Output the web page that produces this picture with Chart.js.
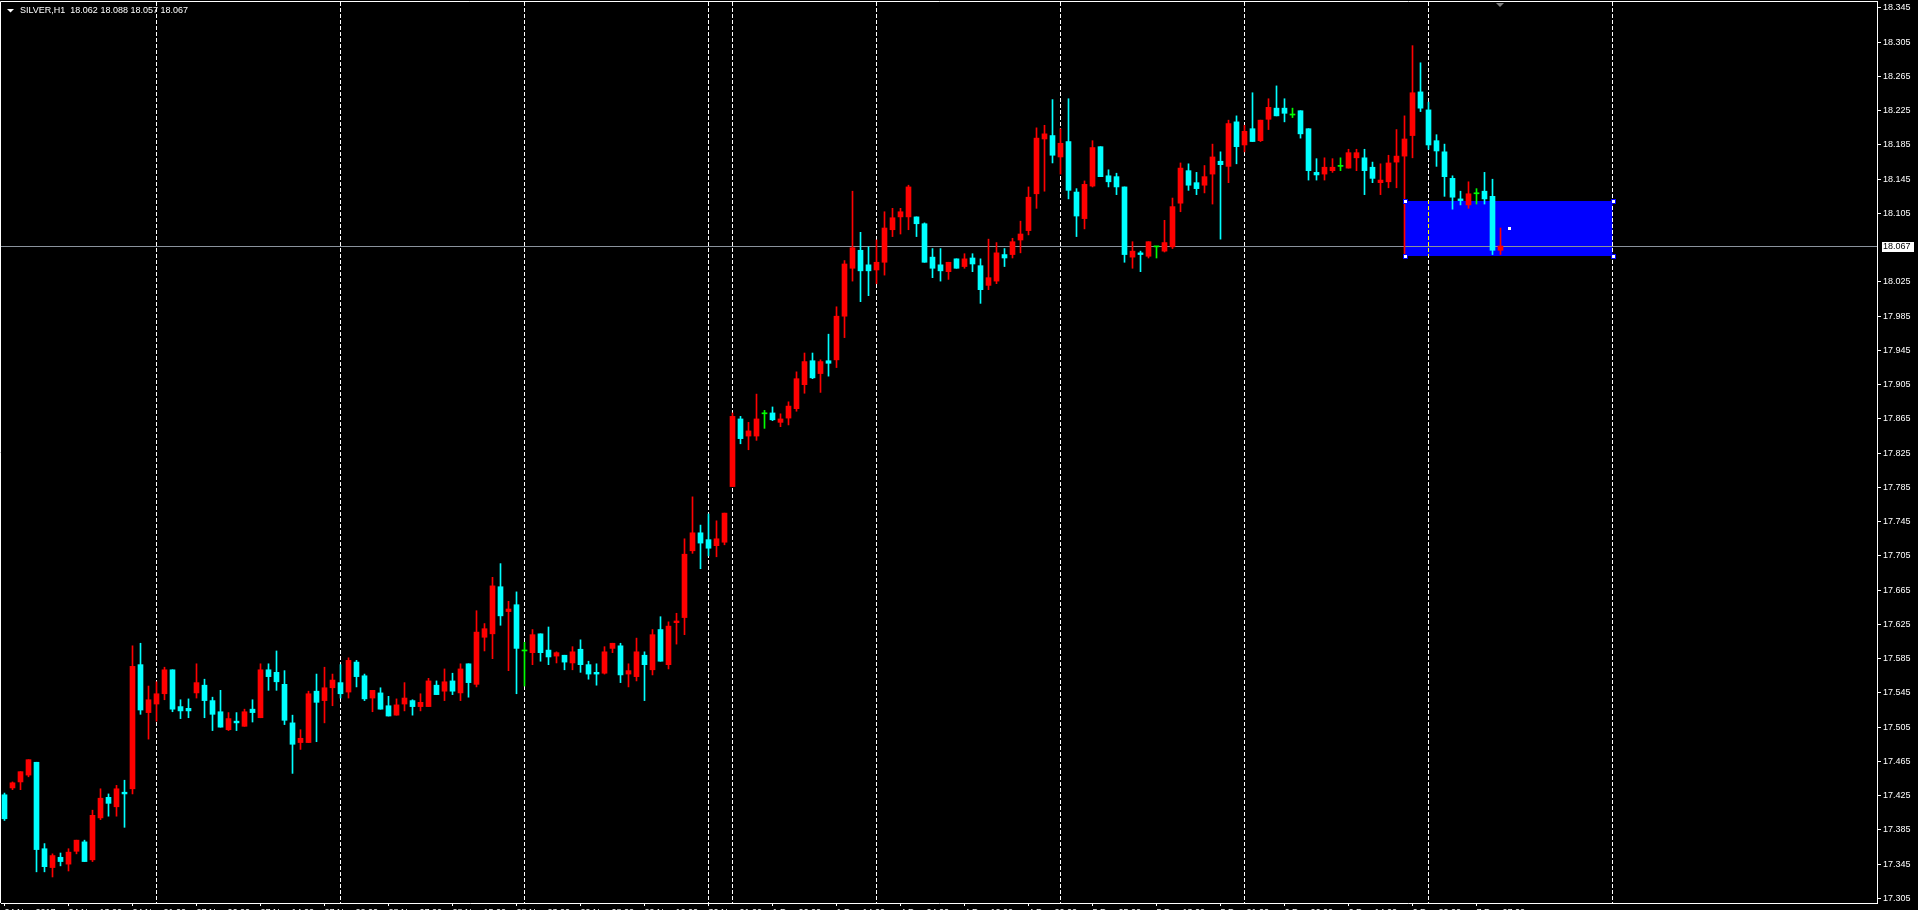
<!DOCTYPE html>
<html><head><meta charset="utf-8">
<script src="https://cdn.jsdelivr.net/npm/chart.js@4.4.0/dist/chart.umd.min.js"></script>
<style>html,body{margin:0;padding:0;background:#000;overflow:hidden}canvas{display:block}</style>
</head><body>
<canvas id="c" width="1918" height="910"></canvas>
<script>
// ---- data (SILVER, H1) ----
const opens = [
17.426,17.434,17.441,17.449,17.464,17.363,17.341,17.353,17.345,17.360,
17.371,17.350,17.399,17.423,17.412,17.429,17.433,17.578,17.522,17.532,
17.544,17.572,17.529,17.527,17.545,17.554,17.536,17.523,17.502,17.512,
17.506,17.526,17.516,17.572,17.569,17.555,17.510,17.487,17.487,17.547,
17.536,17.551,17.557,17.546,17.581,17.565,17.539,17.545,17.530,17.519,
17.532,17.536,17.529,17.529,17.554,17.547,17.559,17.545,17.579,17.555,
17.610,17.614,17.669,17.640,17.648,17.594,17.592,17.614,17.595,17.588,
17.589,17.580,17.596,17.578,17.569,17.568,17.597,17.600,17.567,17.564,
17.589,17.572,17.619,17.578,17.627,17.633,17.711,17.732,17.724,17.717,
17.721,17.786,17.865,17.845,17.845,17.871,17.872,17.861,17.866,17.877,
17.905,17.933,17.918,17.933,17.934,17.985,18.041,18.062,18.045,18.039,
18.048,18.086,18.101,18.101,18.101,18.093,18.054,18.045,18.037,18.052,
18.043,18.053,18.044,18.021,18.026,18.057,18.057,18.074,18.085,18.128,
18.192,18.196,18.171,18.189,18.130,18.099,18.137,18.183,18.149,18.148,
18.136,18.054,18.059,18.055,18.066,18.061,18.066,18.117,18.155,18.141,
18.138,18.151,18.166,18.160,18.212,18.185,18.204,18.190,18.215,18.228,
18.228,18.220,18.225,18.204,18.153,18.151,18.155,18.160,18.158,18.170,
18.170,18.159,18.141,18.142,18.165,18.172,18.196,18.247,18.226,18.190,
18.177,18.146,18.122,18.115,18.128,18.131,18.125,18.062];
const highs = [
17.428,17.441,17.453,17.467,17.464,17.369,17.357,17.358,17.363,17.373,
17.373,17.408,17.433,17.427,17.437,17.443,17.600,17.603,17.553,17.558,
17.575,17.572,17.537,17.538,17.579,17.561,17.540,17.548,17.522,17.522,
17.526,17.537,17.579,17.579,17.594,17.571,17.519,17.502,17.547,17.567,
17.575,17.567,17.578,17.586,17.583,17.567,17.548,17.551,17.541,17.538,
17.557,17.537,17.544,17.562,17.559,17.573,17.568,17.579,17.579,17.641,
17.626,17.680,17.696,17.652,17.663,17.604,17.619,17.614,17.622,17.593,
17.589,17.599,17.607,17.582,17.579,17.599,17.603,17.603,17.579,17.609,
17.593,17.619,17.634,17.628,17.638,17.725,17.774,17.741,17.754,17.746,
17.755,17.872,17.868,17.861,17.894,17.875,17.879,17.871,17.885,17.920,
17.942,17.942,17.934,17.964,17.996,18.050,18.131,18.083,18.066,18.074,
18.107,18.111,18.111,18.138,18.101,18.094,18.064,18.064,18.048,18.052,
18.058,18.058,18.052,18.075,18.071,18.064,18.076,18.096,18.136,18.205,
18.208,18.238,18.204,18.239,18.134,18.143,18.190,18.183,18.156,18.152,
18.136,18.072,18.061,18.072,18.066,18.097,18.123,18.164,18.163,18.153,
18.161,18.186,18.177,18.214,18.219,18.208,18.246,18.214,18.239,18.254,
18.239,18.228,18.225,18.204,18.169,18.170,18.169,18.170,18.180,18.180,
18.180,18.165,18.163,18.173,18.203,18.219,18.301,18.281,18.235,18.197,
18.186,18.149,18.131,18.142,18.134,18.153,18.145,18.088];
const lows = [
17.396,17.432,17.432,17.447,17.336,17.336,17.330,17.343,17.337,17.357,
17.348,17.348,17.397,17.401,17.401,17.388,17.427,17.520,17.491,17.512,
17.537,17.523,17.515,17.516,17.539,17.516,17.501,17.505,17.501,17.501,
17.506,17.511,17.516,17.548,17.548,17.508,17.451,17.479,17.487,17.488,
17.510,17.530,17.539,17.539,17.552,17.536,17.523,17.526,17.518,17.519,
17.524,17.519,17.524,17.529,17.543,17.536,17.543,17.536,17.540,17.552,
17.594,17.585,17.624,17.571,17.544,17.553,17.578,17.582,17.578,17.580,
17.572,17.572,17.569,17.561,17.554,17.567,17.592,17.557,17.552,17.559,
17.536,17.566,17.582,17.573,17.602,17.613,17.708,17.690,17.705,17.704,
17.718,17.786,17.836,17.829,17.840,17.854,17.863,17.856,17.858,17.874,
17.895,17.912,17.896,17.915,17.925,17.960,18.026,18.002,18.009,18.023,
18.033,18.078,18.081,18.086,18.078,18.048,18.030,18.026,18.028,18.041,
18.041,18.037,18.000,18.016,18.023,18.043,18.053,18.059,18.080,18.111,
18.131,18.164,18.151,18.122,18.078,18.087,18.136,18.148,18.136,18.127,
18.048,18.041,18.037,18.053,18.053,18.060,18.064,18.107,18.132,18.127,
18.129,18.116,18.075,18.141,18.163,18.177,18.189,18.189,18.203,18.219,
18.212,18.217,18.193,18.144,18.144,18.144,18.153,18.155,18.158,18.155,
18.127,18.141,18.127,18.135,18.135,18.057,18.170,18.224,18.180,18.160,
18.125,18.110,18.115,18.111,18.116,18.116,18.057,18.057];
const closes = [
17.398,17.440,17.453,17.467,17.362,17.342,17.355,17.348,17.359,17.373,
17.348,17.402,17.422,17.416,17.433,17.427,17.576,17.525,17.537,17.544,
17.572,17.526,17.524,17.524,17.557,17.536,17.520,17.505,17.515,17.510,
17.523,17.522,17.572,17.564,17.558,17.513,17.485,17.492,17.544,17.534,
17.551,17.560,17.544,17.583,17.564,17.538,17.548,17.526,17.518,17.531,
17.539,17.529,17.534,17.559,17.543,17.558,17.547,17.573,17.557,17.616,
17.620,17.670,17.635,17.643,17.597,17.594,17.613,17.592,17.587,17.592,
17.581,17.593,17.578,17.567,17.567,17.593,17.603,17.566,17.571,17.593,
17.578,17.613,17.582,17.623,17.629,17.707,17.732,17.720,17.714,17.725,
17.755,17.868,17.842,17.851,17.865,17.871,17.864,17.865,17.880,17.912,
17.932,17.913,17.932,17.930,17.985,18.046,18.065,18.038,18.038,18.048,
18.088,18.100,18.107,18.136,18.093,18.048,18.041,18.038,18.048,18.041,
18.052,18.046,18.016,18.030,18.059,18.053,18.072,18.081,18.124,18.193,
18.198,18.173,18.187,18.132,18.102,18.139,18.182,18.148,18.142,18.136,
18.057,18.061,18.057,18.072,18.066,18.071,18.113,18.158,18.138,18.134,
18.148,18.171,18.162,18.210,18.183,18.201,18.189,18.214,18.229,18.219,
18.222,18.220,18.198,18.155,18.150,18.159,18.159,18.160,18.176,18.176,
18.155,18.146,18.144,18.164,18.172,18.192,18.246,18.228,18.185,18.178,
18.148,18.124,18.120,18.128,18.128,18.122,18.062,18.067];

const yTickValues = [18.345,18.305,18.265,18.225,18.185,18.145,18.105,18.025,17.985,17.945,
  17.905,17.865,17.825,17.785,17.745,17.705,17.665,17.625,17.585,17.545,17.505,17.465,
  17.425,17.385,17.345,17.305];
const xTickBars = [0,8,16,24,32,40,48,56,64,72,80,88,96,104,112,120,128,136,144,152,160,168,176,184];
const xTickLabels = ["24 Nov 2017","24 Nov 13:00","24 Nov 21:00","27 Nov 06:00","27 Nov 14:00","27 Nov 22:00",
  "28 Nov 07:00","28 Nov 15:00","28 Nov 23:00","29 Nov 08:00","29 Nov 16:00","30 Nov 01:00",
  "1 Dec 06:00","1 Dec 14:00","4 Dec 04:00","4 Dec 12:00","4 Dec 20:00","5 Dec 05:00",
  "5 Dec 13:00","5 Dec 21:00","6 Dec 06:00","6 Dec 14:00","6 Dec 22:00","7 Dec 07:00"];
const daySeparators = [19,42,65,88,91,109,132,155,178,201];
const symbolTitle = "SILVER,H1  18.062 18.088 18.057 18.067";
const lastPrice = 18.067;
const rectBars = [175, 201];
const rectPrices = [18.1196, 18.0553];

// ---- chart ----
const RED = '#FF0000', CYAN = '#00FFFF', GREEN = '#00FF00';
const colorOf = i => closes[i] > opens[i] ? RED : (closes[i] < opens[i] ? CYAN : GREEN);
const bodyData = opens.map((o, i) => ({x: i, y: [o, closes[i]]}));
const wickData = opens.map((o, i) => ({x: i, y: [lows[i], highs[i]]}));

const FONT = {family: 'Liberation Sans', size: 9};

const overlay = {
  id: 'overlay',
  beforeDraw(chart) {
    const c = chart.ctx;
    c.save(); c.fillStyle = '#000'; c.fillRect(0, 0, chart.width, chart.height); c.restore();
  },
  beforeDatasetsDraw(chart) {
    const c = chart.ctx, a = chart.chartArea, xs = chart.scales.x, ys = chart.scales.y;
    c.save();
    c.beginPath(); c.rect(a.left, a.top, a.right - a.left, a.bottom - a.top); c.clip();
    const rx1 = xs.getPixelForValue(rectBars[0]), rx2 = xs.getPixelForValue(rectBars[1]);
    const ry1 = ys.getPixelForValue(rectPrices[0]), ry2 = ys.getPixelForValue(rectPrices[1]);
    c.fillStyle = '#0000FF';
    c.fillRect(rx1, ry1, rx2 - rx1, ry2 - ry1);
    c.lineWidth = 1; c.setLineDash([4, 2]);
    daySeparators.forEach(b => {
      const x = Math.floor(xs.getPixelForValue(b)) + 0.5;
      c.strokeStyle = '#FFFFFF';
      c.beginPath(); c.moveTo(x, a.top); c.lineTo(x, a.bottom); c.stroke();
      if (x > rx1 && x < rx2) {
        c.save(); c.beginPath(); c.rect(rx1, ry1, rx2 - rx1, ry2 - ry1); c.clip();
        c.strokeStyle = '#FFFF00';
        c.beginPath(); c.moveTo(x, a.top); c.lineTo(x, a.bottom); c.stroke();
        c.restore();
      }
    });
    c.setLineDash([]);
    const py = Math.round(ys.getPixelForValue(lastPrice)) + 0.5;
    c.strokeStyle = '#8A929C';
    c.beginPath(); c.moveTo(a.left, py); c.lineTo(a.right, py); c.stroke();
    c.restore();
  },
  afterDraw(chart) {
    const c = chart.ctx, a = chart.chartArea, xs = chart.scales.x, ys = chart.scales.y;
    c.save();
    c.strokeStyle = '#FFFFFF'; c.lineWidth = 1;
    c.beginPath(); c.moveTo(0.5, a.bottom); c.lineTo(0.5, 1.5); c.lineTo(a.right + 1, 1.5); c.stroke();
    const rx1 = xs.getPixelForValue(rectBars[0]), rx2 = xs.getPixelForValue(rectBars[1]);
    const ry1 = ys.getPixelForValue(rectPrices[0]), ry2 = ys.getPixelForValue(rectPrices[1]);
    [[rx1, ry1], [rx2, ry1], [rx1, ry2], [rx2, ry2]].forEach(([x, y]) => {
      const X = Math.round(x), Y = Math.round(y);
      c.fillStyle = '#0000FF'; c.fillRect(X - 2, Y - 2, 5, 5);
      c.fillStyle = '#FFFFFF'; c.fillRect(X - 1, Y - 1, 3, 3);
    });
    const cx = Math.round((rx1 + rx2) / 2), cy = Math.round((ry1 + ry2) / 2);
    c.fillStyle = '#FFFFFF'; c.fillRect(cx - 1, cy - 1, 3, 3);
    c.fillStyle = '#FFFFFF';
    c.beginPath(); c.moveTo(7, 9); c.lineTo(14, 9); c.lineTo(10.5, 12.5); c.closePath(); c.fill();
    c.font = '9px "Liberation Sans"'; c.textBaseline = 'middle'; c.textAlign = 'left';
    c.fillText(symbolTitle, 20, 11);
    c.fillStyle = '#808080';
    c.beginPath(); c.moveTo(1496, 3); c.lineTo(1504, 3); c.lineTo(1500, 7); c.closePath(); c.fill();
    const py = Math.round(ys.getPixelForValue(lastPrice));
    c.fillStyle = '#FFFFFF'; c.fillRect(a.right + 5, py - 4, 32, 10);
    c.fillStyle = '#000000'; c.fillText(lastPrice.toFixed(3), a.right + 6, py + 1);
    c.restore();
  }
};

new Chart(document.getElementById('c'), {
  type: 'bar',
  data: {
    datasets: [
      {label: 'body', data: bodyData, backgroundColor: ctx => colorOf(ctx.dataIndex),
       barThickness: 5, minBarLength: 1, borderWidth: 0, grouped: false, order: 0},
      {label: 'wick', data: wickData, backgroundColor: ctx => colorOf(ctx.dataIndex),
       barThickness: 1, borderWidth: 0, grouped: false, order: 1}
    ]
  },
  options: {
    responsive: false, animation: false, devicePixelRatio: 1, events: [],
    layout: {padding: {left: 1, top: 2, right: 0, bottom: 0}},
    plugins: {legend: {display: false}, tooltip: {enabled: false}, title: {display: false}},
    scales: {
      x: {
        type: 'linear', position: 'bottom', min: -0.4375, max: 234.0625, offset: false,
        afterBuildTicks: s => { s.ticks = xTickBars.map(v => ({value: v})); },
        afterFit: s => { s.height = 7; s.paddingLeft = 0; s.paddingRight = 0; },
        ticks: {autoSkip: false, maxRotation: 0, minRotation: 0, align: 'start', padding: 1,
                color: '#FFFFFF', font: FONT, callback: (v, i) => xTickLabels[i]},
        grid: {drawOnChartArea: false, drawTicks: true, tickLength: 3, color: '#FFFFFF', offset: false},
        border: {display: true, color: '#FFFFFF', width: 1}
      },
      y: {
        type: 'linear', position: 'right', min: 17.2996, max: 18.3520,
        afterBuildTicks: s => { s.ticks = yTickValues.map(v => ({value: v})); },
        afterFit: s => { s.width = 41; s.paddingTop = 0; s.paddingBottom = 0; },
        ticks: {color: '#FFFFFF', font: FONT, padding: 2, callback: v => Number(v).toFixed(3)},
        grid: {drawOnChartArea: false, drawTicks: true, tickLength: 4, color: '#FFFFFF'},
        border: {display: true, color: '#FFFFFF', width: 1}
      }
    }
  },
  plugins: [overlay]
});
</script>
</body></html>
